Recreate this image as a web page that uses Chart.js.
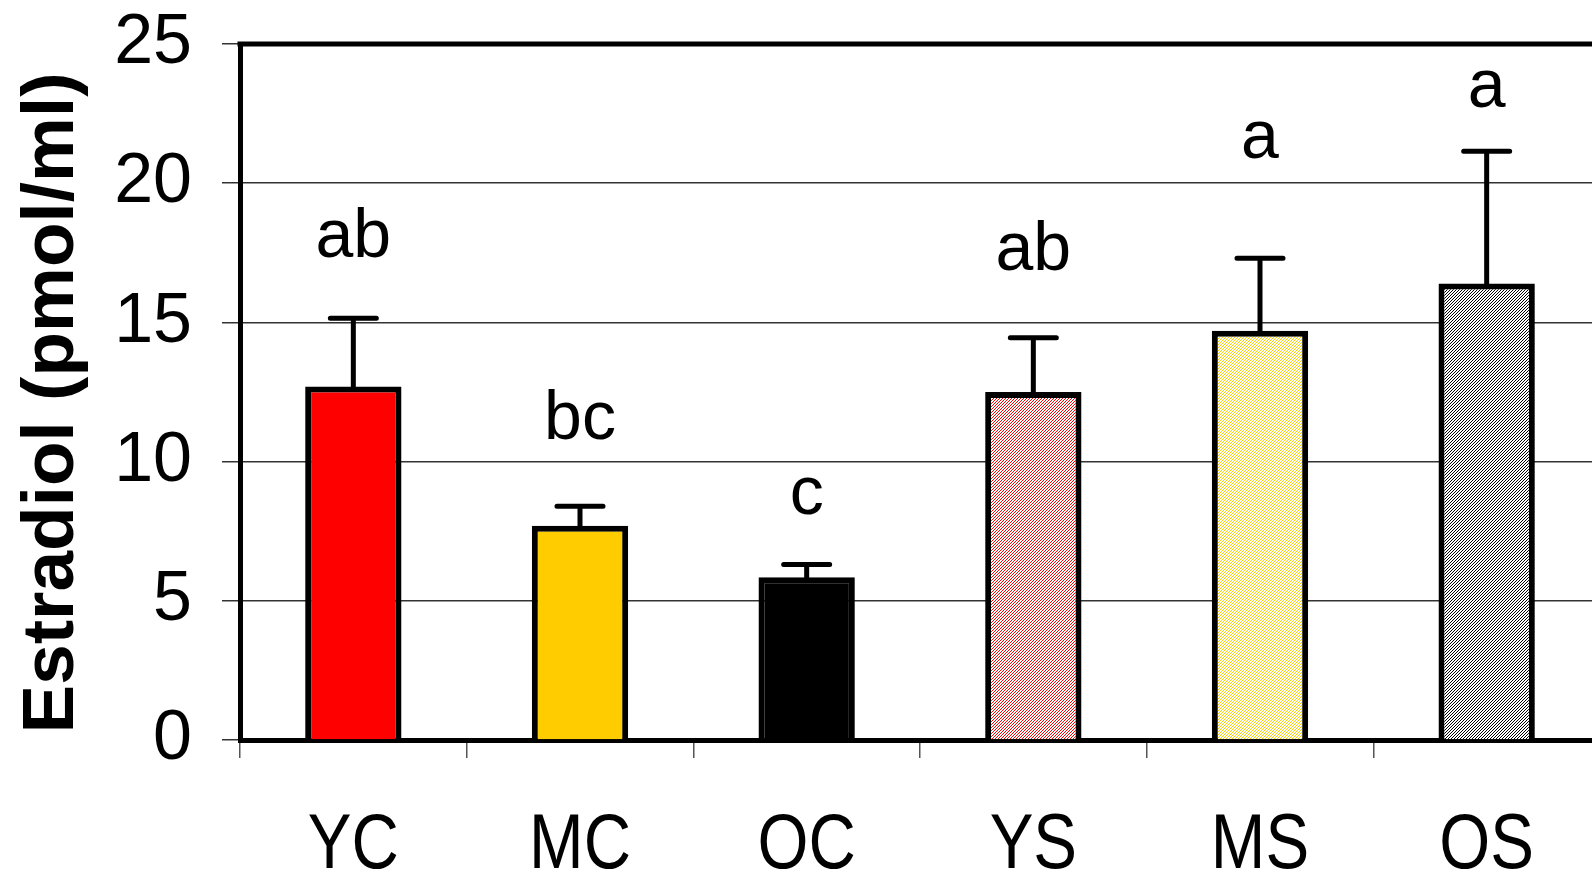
<!DOCTYPE html>
<html>
<head>
<meta charset="utf-8">
<script src="https://cdn.jsdelivr.net/npm/chart.js@4/dist/chart.umd.min.js"></script>
<style>
  html, body { margin: 0; padding: 0; background: #fff; overflow: hidden; }
  #wrap { position: relative; width: 1600px; height: 872px; }
</style>
</head>
<body>
<div id="wrap"><canvas id="chart"></canvas></div>
<script>
const groups = ['YC', 'MC', 'OC', 'YS', 'MS', 'OS'];
const estradiolMean = [12.7, 7.7, 5.85, 12.5, 14.7, 16.4];
const estradiolSem = [2.45, 0.7, 0.45, 1.95, 2.6, 4.75];
const groupLetters = ['ab', 'bc', 'c', 'ab', 'a', 'a'];
// height (pmol/ml) of each letter's baseline
const letterLevels = [17.35, 10.8, 8.1, 16.9, 20.9, 22.75];
const yTicks = [0, 5, 10, 15, 20, 25];
const yTitle = 'Estradiol (pmol/ml)';

const canvas = document.getElementById('chart');
const ctx = canvas.getContext('2d');

// fine diagonal hatch used for the S groups
function makeHatch(color) {
    const n = 3;
    const tile = document.createElement('canvas');
    tile.width = n;
    tile.height = n;
    const t = tile.getContext('2d');
    t.fillStyle = '#fff';
    t.fillRect(0, 0, n, n);
    t.fillStyle = color;
    for (let i = 0; i < n; i++) {
        t.fillRect(i, n - 1 - i, 1, 1);
    }
    return ctx.createPattern(tile, 'repeat');
}

const barFills = ['#ff0000', '#ffcc00', '#000000', makeHatch('#ff0000'), makeHatch('#ffcc00'), makeHatch('#000000')];

const errorBars = {
    id: 'errorBars',
    afterDatasetsDraw(chart) {
        const { ctx, scales: { y } } = chart;
        const meta = chart.getDatasetMeta(0);
        ctx.save();
        ctx.strokeStyle = '#000';
        ctx.lineWidth = 5;
        ctx.lineCap = 'round';
        meta.data.forEach((bar, i) => {
            const top = y.getPixelForValue(estradiolMean[i] + estradiolSem[i]);
            ctx.beginPath();
            ctx.moveTo(bar.x, bar.y);
            ctx.lineTo(bar.x, top);
            ctx.moveTo(bar.x - 23, top);
            ctx.lineTo(bar.x + 23, top);
            ctx.stroke();
        });
        ctx.fillStyle = '#000';
        ctx.font = '68px "Liberation Sans", Arial, sans-serif';
        ctx.textAlign = 'center';
        ctx.textBaseline = 'alphabetic';
        meta.data.forEach((bar, i) => {
            ctx.fillText(groupLetters[i], bar.x, y.getPixelForValue(letterLevels[i]));
        });
        ctx.restore();
    },
    afterDraw(chart) {
        const { ctx, chartArea, scales: { x } } = chart;
        ctx.save();
        ctx.strokeStyle = '#000';
        ctx.lineWidth = 5;
        ctx.beginPath();
        ctx.moveTo(chartArea.left - 2.5, chartArea.top);
        ctx.lineTo(chartArea.right, chartArea.top);
        ctx.stroke();

        // category names, set a little condensed like the original
        ctx.fillStyle = '#000';
        ctx.font = '78px "Liberation Sans", Arial, sans-serif';
        ctx.textAlign = 'center';
        ctx.textBaseline = 'alphabetic';
        groups.forEach((g, i) => {
            ctx.save();
            ctx.translate(x.getPixelForValue(i), chartArea.bottom + 128);
            ctx.scale(0.84, 1);
            ctx.fillText(g, 0, 0);
            ctx.restore();
        });

        // y title, sits a bit below the middle of the axis in the original
        ctx.translate(chartArea.left - 187, (chartArea.top + chartArea.bottom) / 2 + 11);
        ctx.rotate(-Math.PI / 2);
        ctx.font = 'bold 73px "Liberation Sans", Arial, sans-serif';
        ctx.textBaseline = 'middle';
        ctx.fillText(yTitle, 0, 0);
        ctx.restore();
    }
};

new Chart(ctx, {
    type: 'bar',
    data: {
        labels: groups,
        datasets: [{
            data: estradiolMean,
            backgroundColor: barFills,
            borderColor: '#000',
            borderWidth: 6,
            categoryPercentage: 1,
            barPercentage: 0.425
        }]
    },
    options: {
        responsive: true,
        maintainAspectRatio: false,
        animation: false,
        layout: { padding: { top: 44, left: 0, right: 0, bottom: 0 } },
        plugins: {
            legend: { display: false },
            tooltip: { enabled: false }
        },
        scales: {
            x: {
                z: 1,
                offset: true,
                grid: { offset: true, drawOnChartArea: false, drawTicks: true, tickLength: 18, color: '#555', lineWidth: 1.5 },
                border: { display: true, color: '#000', width: 5 },
                ticks: { display: false },
                afterFit: s => {
                    s.height = 132;
                    s.paddingLeft = 0;
                    s.paddingRight = 0;
                }
            },
            y: {
                min: 0,
                max: 25,
                afterBuildTicks: s => { s.ticks = yTicks.map(v => ({ value: v })); },
                ticks: {
                    color: '#000',
                    font: { family: '"Liberation Sans", Arial', size: 70 },
                    padding: 30
                },
                grid: { color: '#333', lineWidth: 1.5, tickLength: 18 },
                border: { color: '#000', width: 5 },
                afterFit: s => {
                    s.width = 240;
                    s.paddingTop = 0;
                    s.paddingBottom = 0;
                }
            }
        }
    },
    plugins: [errorBars]
});
</script>
</body>
</html>
